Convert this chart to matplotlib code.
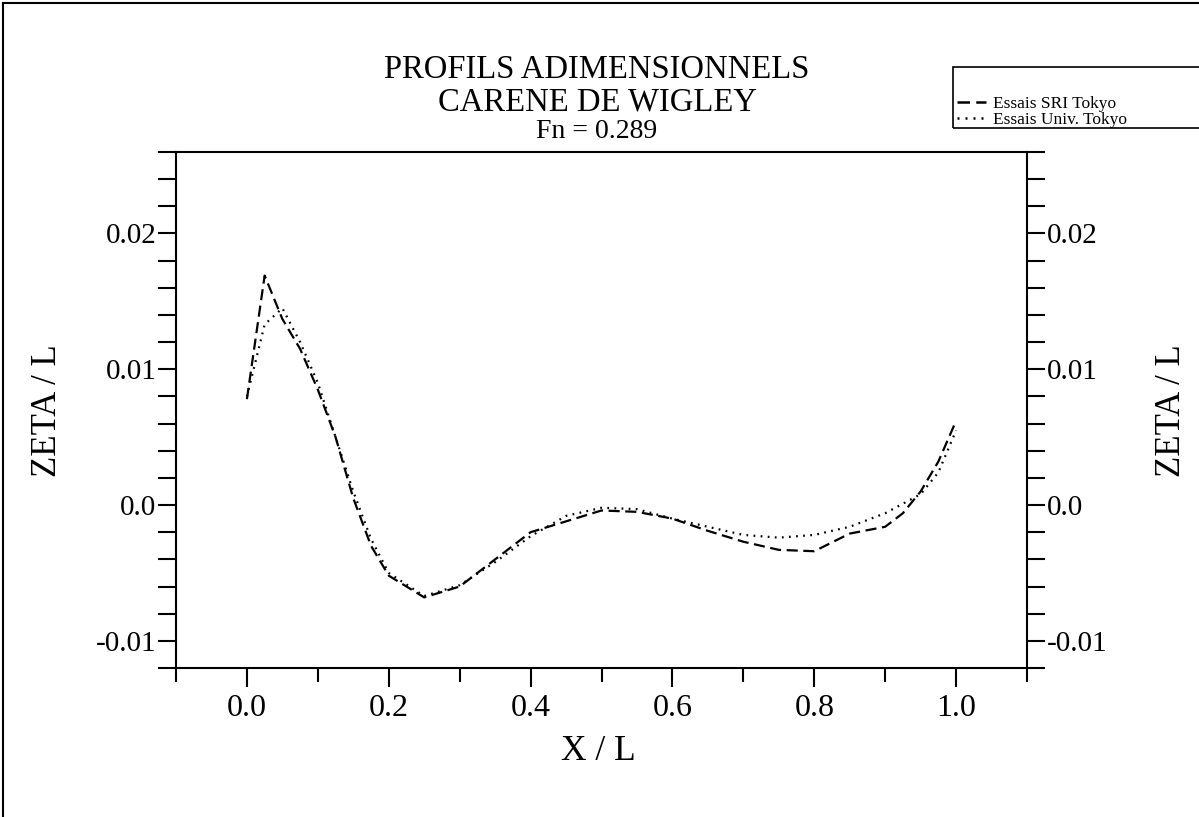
import matplotlib
matplotlib.use("Agg")
import matplotlib.pyplot as plt
from matplotlib.lines import Line2D
import numpy as np

plt.rcParams["font.family"] = ["Liberation Serif", "DejaVu Serif"]

# Données (X/L, ZETA/L)
x_sri = [0.0, 0.025, 0.05, 0.075, 0.1, 0.125, 0.15, 0.175, 0.2, 0.25, 0.3, 0.35,
         0.4, 0.45, 0.5, 0.55, 0.6, 0.65, 0.7, 0.75, 0.8, 0.85, 0.9, 0.925,
         0.95, 0.975, 1.0]
z_sri = [0.0078, 0.0169, 0.0137, 0.0115, 0.0085, 0.0050, 0.0005, -0.0030, -0.0052,
         -0.0068, -0.0060, -0.0040, -0.0020, -0.0012, -0.0004, -0.0005, -0.0010,
         -0.0019, -0.0027, -0.0033, -0.0034, -0.0021, -0.0016, -0.0006, 0.0010,
         0.0032, 0.0062]

x_univ = [0.0, 0.025, 0.05, 0.075, 0.1, 0.125, 0.15, 0.175, 0.2, 0.25, 0.3, 0.35,
          0.4, 0.45, 0.5, 0.55, 0.6, 0.65, 0.7, 0.75, 0.8, 0.85, 0.9, 0.95,
          0.975, 1.0]
z_univ = [0.0080, 0.0133, 0.0145, 0.0120, 0.0090, 0.0050, 0.0010, -0.0025, -0.0050,
          -0.0067, -0.0059, -0.0042, -0.0023, -0.0008, -0.0002, -0.0003, -0.0010,
          -0.0016, -0.0022, -0.0024, -0.0022, -0.0016, -0.0006, 0.0008,
          0.0024, 0.0055]

labels = ["Essais SRI Tokyo", "Essais Univ. Tokyo"]
title_lines = ["PROFILS ADIMENSIONNELS", "CARENE DE WIGLEY", "Fn = 0.289"]

W, H = 1199, 817
fig = plt.figure(figsize=(W / 100, H / 100), dpi=100)
ax = fig.add_axes([176 / W, 1 - 668 / H, (1027 - 176) / W, (668 - 152) / H])

dash_style = (0, (5, 2.5))
dot_style = (0, (0.8, 2.4))
ax.plot(x_sri, z_sri, color="black", lw=1.6, linestyle=dash_style)
ax.plot(x_univ, z_univ, color="black", lw=1.6, linestyle=dot_style)

ax.set_xlim(-0.1, 1.1)
ax.set_ylim(-0.012, 0.026)

# graduations
ax.set_xticks(np.arange(0.0, 1.01, 0.2))
ax.set_xticklabels([f"{v:.1f}" for v in np.arange(0.0, 1.01, 0.2)])
ax.set_xticks(np.arange(-0.1, 1.11, 0.2), minor=True)
ax.set_yticks([-0.01, 0.0, 0.01, 0.02])
ax.set_yticklabels(["-0.01", "0.0", "0.01", "0.02"])
ax.set_yticks(np.arange(-0.012, 0.0261, 0.002), minor=True)

ax.tick_params(axis="x", which="major", direction="out", length=14, width=1.5,
               labelsize=23, pad=5, top=False)
ax.tick_params(axis="x", which="minor", direction="out", length=10, width=1.5, top=False)
ax.tick_params(axis="y", which="both", direction="out", length=13, width=1.5,
               labelsize=21, pad=1, left=True, right=True, labelleft=True,
               labelright=True)

for s in ax.spines.values():
    s.set_linewidth(1.5)

# étiquettes des axes
fig.text(598 / W, 1 - 752 / H, "X / L", ha="center", va="center", fontsize=25.5)
fig.text(48 / W, 1 - 411 / H, "ZETA / L", ha="center", va="center", fontsize=25,
         rotation=90)
fig.text(1172 / W, 1 - 411 / H, "ZETA / L", ha="center", va="center", fontsize=25,
         rotation=90)

# titre
fig.text(597 / W, 1 - 70 / H, title_lines[0], ha="center", va="center", fontsize=23.5)
fig.text(597 / W, 1 - 102 / H, title_lines[1], ha="center", va="center", fontsize=23.5)
fig.text(597 / W, 1 - 132 / H, title_lines[2], ha="center", va="center", fontsize=20)

# cadre de la légende
fig.patches.append(plt.Rectangle((953 / W, 1 - 128 / H), (1210 - 953) / W, 61 / H,
                                 transform=fig.transFigure, fill=False,
                                 edgecolor="black", lw=1.2))
handles = [Line2D([], [], color="black", lw=1.8, linestyle=dash_style),
           Line2D([], [], color="black", lw=1.8, linestyle=dot_style)]
fig.legend(handles, labels, loc="lower left",
           bbox_to_anchor=(955 / W, 1 - 130 / H), frameon=False, fontsize=12.5,
           handlelength=1.7, handletextpad=0.4, labelspacing=0.0,
           borderpad=0.1, borderaxespad=0)

# cadre extérieur (bord de la page scannée)
fig.add_artist(Line2D([3 / W, 3 / W], [0, 1 - 3 / H], transform=fig.transFigure,
                      color="black", lw=1.5))
fig.add_artist(Line2D([3 / W, 1], [1 - 3 / H, 1 - 3 / H], transform=fig.transFigure,
                      color="black", lw=1.5))

fig.savefig("out.png", dpi=100)
